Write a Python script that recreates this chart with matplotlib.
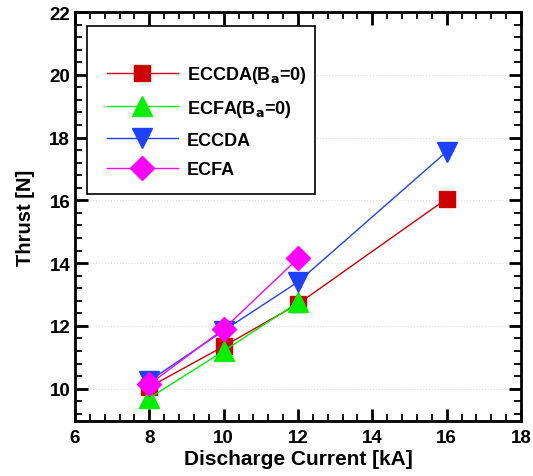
import matplotlib
matplotlib.use("Agg")
import matplotlib.pyplot as plt
from matplotlib.patches import Rectangle
from matplotlib.ticker import MultipleLocator

plt.rcParams['font.family'] = ['Liberation Sans', 'DejaVu Sans']
plt.rcParams['font.weight'] = 'bold'
plt.rcParams['mathtext.default'] = 'regular'

# data
current_a = [8, 10, 12, 16]
eccda_b0 = [10.05, 11.35, 12.7, 16.05]
current_b = [8, 10, 12]
ecfa_b0 = [9.7, 11.2, 12.75]
current_c = [8, 10, 12, 16]
eccda = [10.25, 11.85, 13.4, 17.55]
current_d = [8, 10, 12]
ecfa = [10.14, 11.9, 14.15]

fig = plt.figure(figsize=(5.33, 4.77), dpi=100)
ax = fig.add_axes([0.1407, 0.1153, 0.8368, 0.8574])

ax.plot(current_a, eccda_b0, color='#D00000', lw=1, marker='s', ms=12,
        mec='#D00000', label=r'ECCDA(B$_{\mathbf{a}}$=0)')
ax.plot(current_b, ecfa_b0, color='#00F000', lw=1, marker='^', ms=14,
        mec='#00F000', label=r'ECFA(B$_{\mathbf{a}}$=0)')
ax.plot(current_c, eccda, color='#2040FF', lw=1, marker='v', ms=14,
        mec='#2040FF', label='ECCDA')
ax.plot(current_d, ecfa, color='#FF00FF', lw=1, marker='D', ms=12,
        mec='#FF00FF', label='ECFA')

ax.set_xlim(6, 18)
ax.set_ylim(8.97, 22)
ax.xaxis.set_major_locator(MultipleLocator(2))
ax.xaxis.set_minor_locator(MultipleLocator(0.4))
ax.yaxis.set_major_locator(MultipleLocator(2))
ax.yaxis.set_minor_locator(MultipleLocator(0.4))
ax.tick_params(which='both', direction='in', top=True, right=True,
               labelsize=13.5, width=1.3)
ax.tick_params(which='major', length=9, width=2)
ax.tick_params(which='minor', length=5)
ax.tick_params(axis='x', pad=6)
for s in ax.spines.values():
    s.set_linewidth(2)

ax.yaxis.grid(True, which='major', ls=':', color='#DDDDDD', lw=0.8)
ax.set_axisbelow(True)

ax.set_xlabel('Discharge Current [kA]', fontsize=15, fontweight='bold', labelpad=2)
ax.set_ylabel('Thrust [N]', fontsize=14.5, fontweight='bold', labelpad=10)

# legend frame
ax.add_patch(Rectangle((0.027, 0.555), 0.511, 0.411, transform=ax.transAxes,
                       fill=True, facecolor='white', edgecolor='black',
                       lw=1.2, zorder=4))
leg = ax.legend(loc='upper left', bbox_to_anchor=(0.052, 0.895), frameon=False,
                fontsize=13, handlelength=3.9, handletextpad=0.5,
                labelspacing=0.71, borderpad=0)
leg.set_zorder(5)

fig.savefig('out.png', dpi=100)
